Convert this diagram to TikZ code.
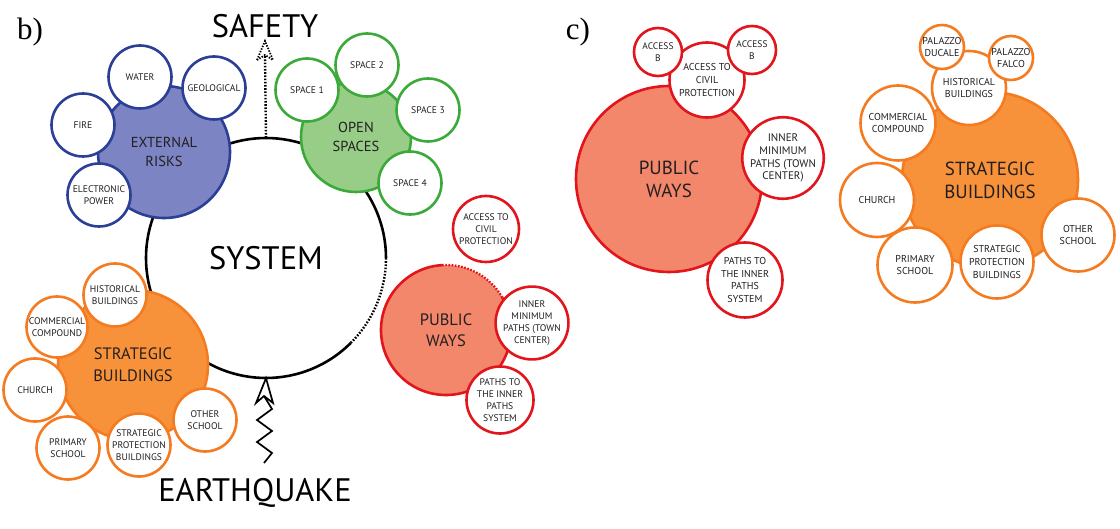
\documentclass[tikz,border=0pt]{standalone}
\usepackage{fontspec}
\setmainfont{PT Sans}
\newfontfamily\serifb{Liberation Serif}
\usetikzlibrary{arrows.meta}
\definecolor{bluel}{HTML}{2A3F95}
\definecolor{bluef}{HTML}{7C84C4}
\definecolor{greenl}{HTML}{3CAA3A}
\definecolor{greenf}{HTML}{98CD87}
\definecolor{orangel}{HTML}{F47B20}
\definecolor{orangef}{HTML}{F7923A}
\definecolor{redl}{HTML}{E2141C}
\definecolor{redf}{HTML}{F3876B}
\definecolor{txt}{HTML}{231F20}
\tikzset{
  bub/.style={circle, inner sep=0pt, line width=2.6pt, align=center, text=txt},
  sat/.style={bub, fill=white, draw=#1, font=\fontsize{9.6}{12}\selectfont},
  satc/.style={bub, fill=white, draw=#1, font=\fontsize{10}{12.7}\selectfont},
  big/.style={bub, font=\fontsize{14.5}{19.5}\selectfont},
  sysline/.style={line width=2.6pt, black},
  dotline/.style={line width=2.4pt, black, dash pattern=on 1.6pt off 1.6pt},
  redline/.style={line width=2.6pt, redl},
  reddot/.style={line width=2.4pt, redl, dash pattern=on 1.6pt off 1.6pt},
  biglabel/.style={font=\fontsize{32.5}{32.5}\selectfont, text=black, inner sep=0pt}
}
\begin{document}
\begin{tikzpicture}[x=1pt,y=-1pt]
\useasboundingbox (0,0) rectangle (1120,529);

% panel labels
\node[font=\serifb\fontsize{31}{31}\selectfont, inner sep=0pt] (lb) at (30,32) {b)};
\node[font=\serifb\fontsize{31}{31}\selectfont, inner sep=0pt] (lc) at (578,32) {c)};

% ---------- panel b ----------
\node[circle, minimum size=240, inner sep=0pt, font=\fontsize{32.5}{32.5}\selectfont] (system) at (266,258) {SYSTEM};
\draw[sysline] (266,258) ++(45:120) arc[start angle=45, end angle=360, radius=120];
\draw[dotline] (266,258) ++(0:120) arc[start angle=0, end angle=45, radius=120];

% safety arrow
\node[biglabel] (safety) at (265,26) {SAFETY};
\coordinate (sbase) at (265,56);
\draw[dotline] (system.north) -- (sbase);
\draw[line width=1.8pt, dash pattern=on 1.4pt off 1.4pt] (257,60) -- (265,41) -- (273,60) -- (265,55) -- cycle;

% earthquake arrow
\node[biglabel] (eq) at (255,493) {EARTHQUAKE};
\coordinate (e0) at (264,396);
\draw[line width=1.7pt, line join=miter] (256,403) -- (system.south) -- (273,403) -- (264,396) -- cycle;
\draw[line width=1.7pt] (e0) -- (272,409) -- (257,420) -- (272,431) -- (257,442) -- (272,453) -- (264,463);

% external risks
\node[big, fill=bluef, draw=bluel, minimum size=132] (ext) at (164,152) {EXTERNAL\\RISKS};
\node[sat=bluel, minimum size=63] (water) at (140,77) {WATER};
\node[sat=bluel, minimum size=63] (geo) at (214,88) {GEOLOGICAL};
\node[sat=bluel, minimum size=63] (fire) at (83,125) {FIRE};
\node[sat=bluel, minimum size=63] (elec) at (99,195) {ELECTRONIC\\POWER};

% open spaces
\node[big, fill=greenf, draw=greenl, minimum size=110] (open) at (356,137) {OPEN\\SPACES};
\node[sat=greenl, minimum size=63] (sp1) at (307,90) {SPACE 1};
\node[sat=greenl, minimum size=63] (sp2) at (367,65) {SPACE 2};
\node[sat=greenl, minimum size=63] (sp3) at (428,110) {SPACE 3};
\node[sat=greenl, minimum size=63] (sp4) at (410,183) {SPACE 4};

% strategic buildings
\node[big, fill=orangef, draw=orangel, minimum size=150, font=\fontsize{16.5}{22}\selectfont] (sb) at (133,365) {STRATEGIC\\BUILDINGS};
\node[sat=orangel, minimum size=63] (hist) at (115,295) {HISTORICAL\\BUILDINGS};
\node[sat=orangel, minimum size=61] (comm) at (57,327) {COMMERCIAL\\COMPOUND};
\node[sat=orangel, minimum size=63] (church) at (35,390) {CHURCH};
\node[sat=orangel, minimum size=63] (prim) at (68,448) {PRIMARY\\SCHOOL};
\node[sat=orangel, minimum size=63] (spb) at (139,445) {STRATEGIC\\PROTECTION\\BUILDINGS};
\node[sat=orangel, minimum size=63] (other) at (205,420) {OTHER\\SCHOOL};

% public ways
\node[big, fill=redf, minimum size=130, font=\fontsize{16.5}{21}\selectfont] (pw) at (446,330) {PUBLIC\\WAYS};
\draw[redline] (446,330) ++(-92:65) arc[start angle=-92, end angle=-390, radius=65];
\draw[reddot] (446,330) ++(-30:65) arc[start angle=-30, end angle=-92, radius=65];
\node[sat=redl, minimum size=66] (acp) at (486,229) {ACCESS TO\\CIVIL\\PROTECTION};
\node[sat=redl, minimum size=66] (imp) at (532,323) {INNER\\MINIMUM\\PATHS (TOWN\\CENTER)};
\node[sat=redl, minimum size=67] (ptip) at (500,400) {PATHS TO\\THE INNER\\PATHS\\SYSTEM};

% ---------- panel c ----------
\node[big, fill=redf, draw=redl, minimum size=186, font=\fontsize{19}{23}\selectfont] (pw2) at (669,179) {PUBLIC\\WAYS};
\node[satc=redl, minimum size=75] (acp2) at (707,80) {ACCESS TO\\CIVIL\\PROTECTION};
\node[satc=redl, minimum size=48, font=\fontsize{9.5}{12}\selectfont] (ab1) at (658,52) {ACCESS\\B};
\node[satc=redl, minimum size=48, font=\fontsize{9.5}{12}\selectfont] (ab2) at (752,50) {ACCESS\\B};
\node[satc=redl, minimum size=76, font=\fontsize{11}{12.7}\selectfont] (imp2) at (783,158) {INNER\\MINIMUM\\PATHS (TOWN\\CENTER)};
\node[satc=redl, minimum size=75] (ptip2) at (745,280) {PATHS TO\\THE INNER\\PATHS\\SYSTEM};

\node[big, fill=orangef, draw=orangel, minimum size=176, font=\fontsize{19}{23}\selectfont] (sb2) at (990,180) {STRATEGIC\\BUILDINGS};
\node[satc=orangel, minimum size=74] (hist2) at (969,88) {HISTORICAL\\BUILDINGS};
\node[satc=orangel, minimum size=44, font=\fontsize{10}{12}\selectfont] (pd) at (942,47) {PALAZZO\\DUCALE};
\node[satc=orangel, minimum size=44, font=\fontsize{10}{12}\selectfont] (pf) at (1011,58) {PALAZZO\\FALCO};
\node[satc=orangel, minimum size=75] (comm2) at (898,123) {COMMERCIAL\\COMPOUND};
\node[satc=orangel, minimum size=74] (church2) at (877,200) {CHURCH};
\node[satc=orangel, minimum size=75] (prim2) at (915,265) {PRIMARY\\SCHOOL};
\node[satc=orangel, minimum size=73] (spb2) at (997,262) {STRATEGIC\\PROTECTION\\BUILDINGS};
\node[satc=orangel, minimum size=73] (other2) at (1078,235) {OTHER\\SCHOOL};
\end{tikzpicture}
\end{document}
